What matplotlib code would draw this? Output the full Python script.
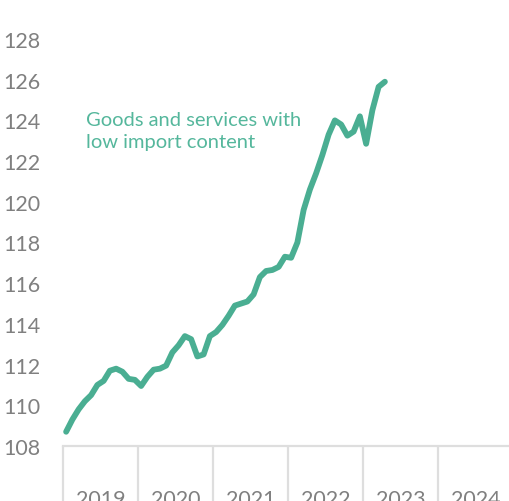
import pandas as pd
import matplotlib
matplotlib.use('Agg')
import matplotlib.pyplot as plt
from matplotlib.ticker import FixedLocator, NullFormatter

# Monthly index, Jan 2019 - Apr 2023
start_month = '2019-01'
values = [
    108.7, 109.3, 109.8, 110.2, 110.5, 111.0, 111.2, 111.7, 111.8, 111.65, 111.3, 111.25,
    110.95, 111.4, 111.75, 111.8, 111.95, 112.6, 112.95, 113.4, 113.25, 112.4, 112.5, 113.4,
    113.6, 113.95, 114.4, 114.9, 115.0, 115.1, 115.45, 116.3, 116.6, 116.65, 116.8, 117.3,
    117.25, 118.0, 119.6, 120.6, 121.4, 122.3, 123.3, 124.0, 123.8, 123.25, 123.45, 124.2,
    122.85, 124.5, 125.65, 125.9,
]
years = [2019, 2020, 2021, 2022, 2023, 2024]
y_ticks = [108, 110, 112, 114, 116, 118, 120, 122, 124, 126, 128]
label = 'Goods and services with\nlow import content'

line_color = '#4aae92'
text_color = '#55b79c'
grey = '#808080'
light = '#dedede'

def load_data():
    dates = pd.date_range(start_month, periods=len(values), freq='MS')
    df = pd.DataFrame({'value': values}, index=dates)
    # position each month at its middle, in fractional years
    df['x'] = df.index.year + (df.index.month - 0.5) / 12
    return df

def plot(df):
    plt.rcParams['font.family'] = ['Lato', 'DejaVu Sans']
    fig = plt.figure(figsize=(5.09, 5.02), dpi=100)
    ax = fig.add_axes([63 / 509, 1 - 447 / 502, 450 / 509, 407 / 502])

    ax.plot(df['x'], df['value'], color=line_color, lw=4.2,
            solid_capstyle='round', solid_joinstyle='round', clip_on=False)

    ax.set_xlim(years[0], years[-1] + 1)
    ax.set_ylim(y_ticks[0], y_ticks[-1])

    for s in ['top', 'right', 'left']:
        ax.spines[s].set_visible(False)
    ax.spines['bottom'].set_color(light)
    ax.spines['bottom'].set_linewidth(1.6)

    # y labels
    ax.set_yticks(y_ticks)
    ax.set_yticklabels([str(t) for t in y_ticks])
    ax.tick_params(axis='y', length=0, pad=16, labelsize=15.5, labelcolor=grey)

    # year separators as long ticks, labels centred in each year
    ax.xaxis.set_major_locator(FixedLocator(years + [years[-1] + 1]))
    ax.xaxis.set_major_formatter(NullFormatter())
    ax.tick_params(axis='x', which='major', length=45, width=1.6, color=light)
    ax.xaxis.set_minor_locator(FixedLocator([y + 0.5 for y in years]))
    ax.set_xticklabels([str(y) for y in years], minor=True)
    ax.tick_params(axis='x', which='minor', length=0, pad=31, labelsize=15.5, labelcolor=grey)

    ax.text(2019.31, 123.5, label, color=text_color, fontsize=14.5,
            va='center', ha='left', linespacing=1.3)

    fig.savefig('out.png', dpi=100)

def main():
    df = load_data()
    plot(df)

if __name__ == '__main__':
    main()
